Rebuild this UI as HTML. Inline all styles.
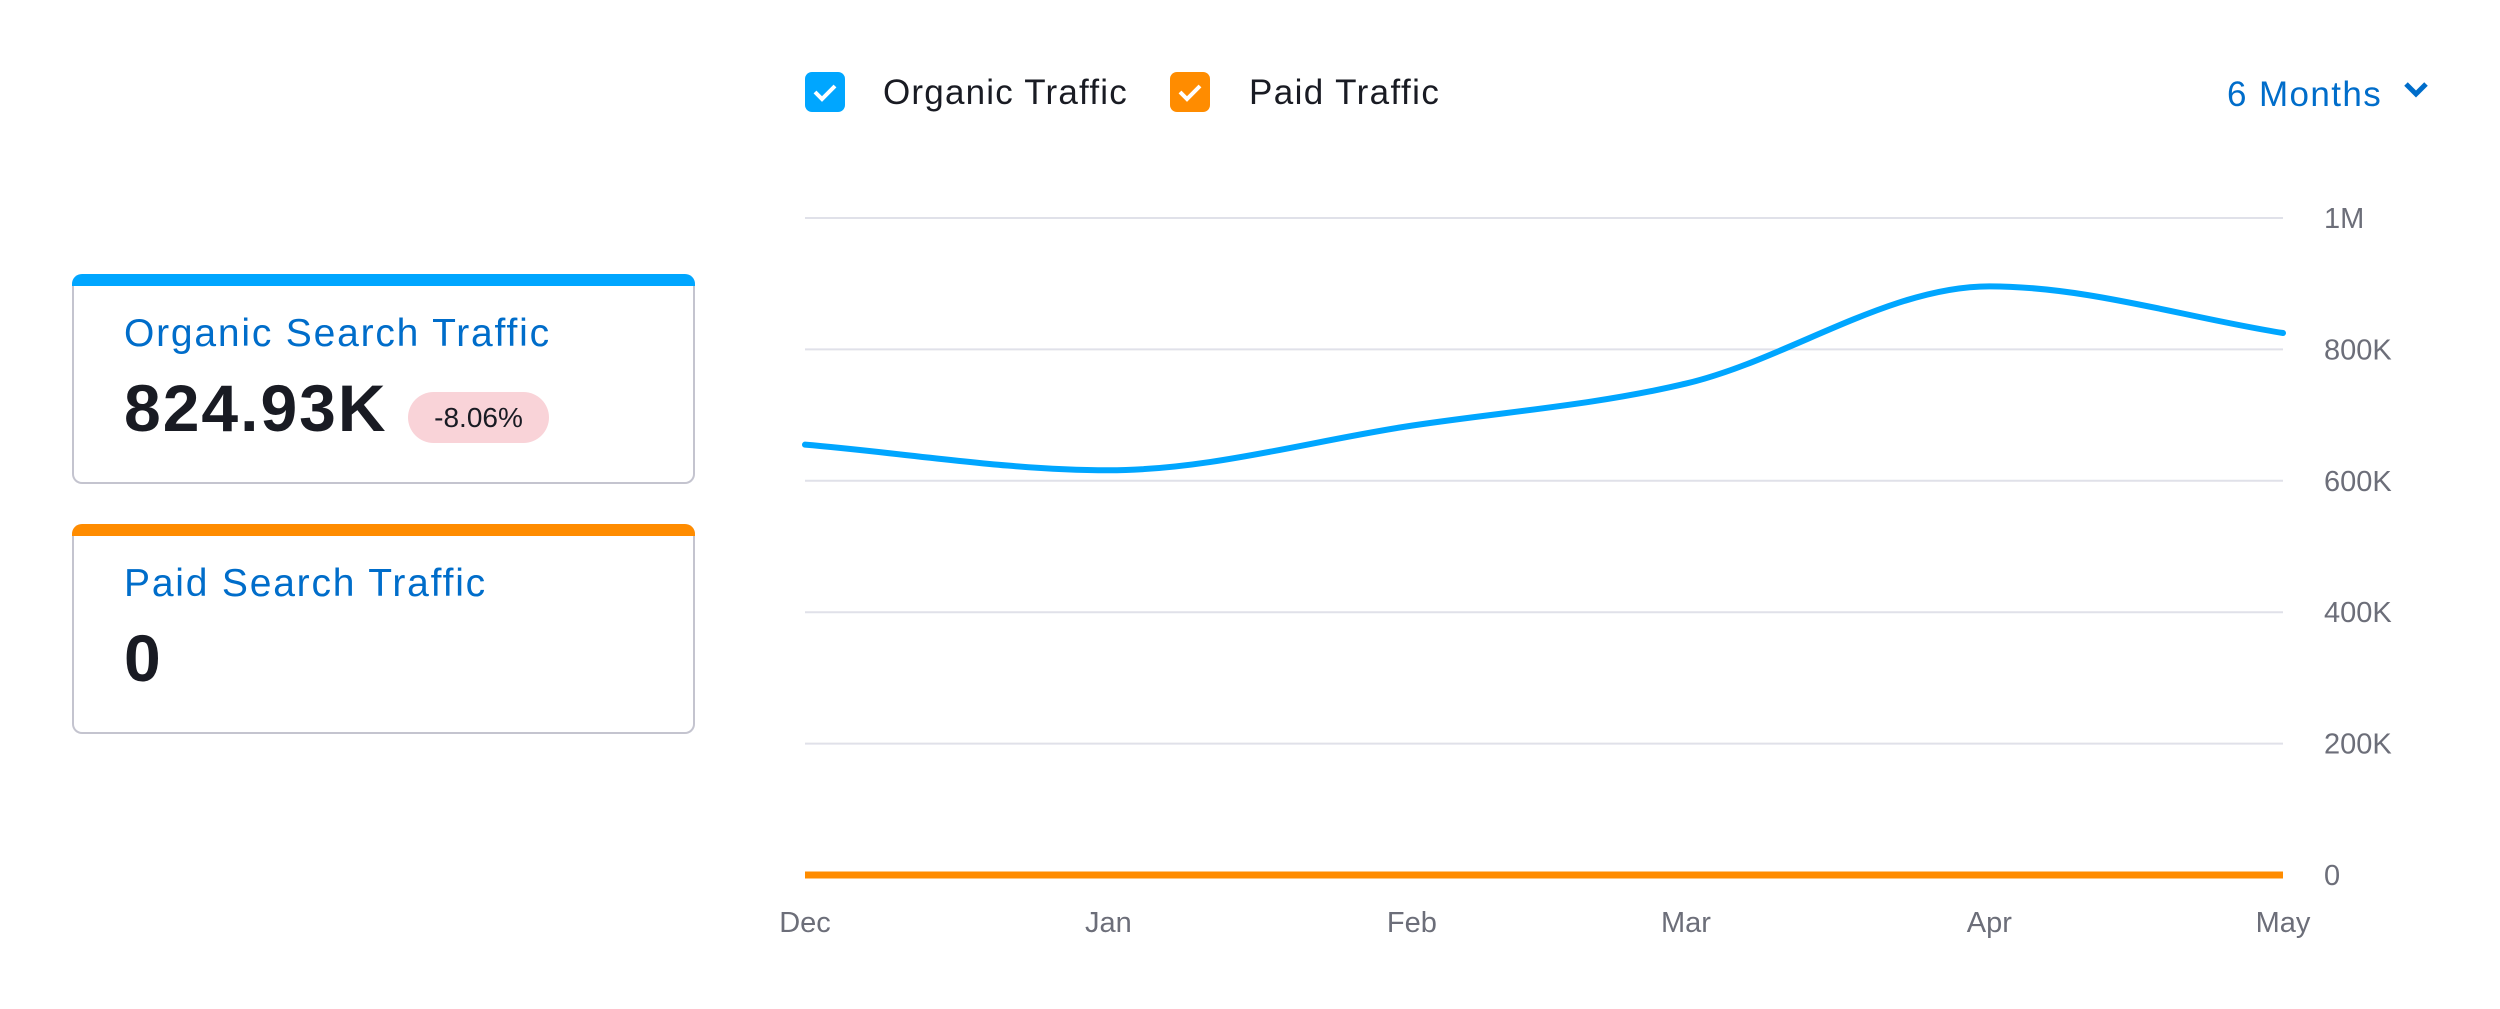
<!DOCTYPE html>
<html><head><meta charset="utf-8"><style>
body{margin:0;width:2500px;height:1009px;background:#fff;font-family:"Liberation Sans",sans-serif;overflow:hidden;position:relative}
.card{position:absolute;left:72px;width:623px;border:2px solid #c4c4cf;border-top:none;border-radius:10px;box-sizing:border-box;background:#fff}
.card .bar{position:absolute;left:-2px;right:-2px;top:0;height:12px;border-radius:10px 10px 0 0}
.t{position:absolute;left:50px;font-size:39px;letter-spacing:1.8px;color:#006dca}
.v{position:absolute;left:50px;font-size:66px;letter-spacing:2px;font-weight:bold;color:#191b23}
</style></head><body>
<div class="card" style="top:274px;height:210px">
 <div class="bar" style="background:#00a6ff"></div>
 <div class="t" style="top:38px">Organic Search Traffic</div>
 <div class="v" style="top:96px">824.93K</div>
 <div style="position:absolute;left:334px;top:118px;width:141px;height:51px;border-radius:26px;background:#f9d3d8;font-size:28px;color:#191b23;text-align:center;line-height:51px">-8.06%</div>
</div>
<div class="card" style="top:524px;height:210px">
 <div class="bar" style="background:#ff8c00"></div>
 <div class="t" style="top:38px">Paid Search Traffic</div>
 <div class="v" style="top:96px">0</div>
</div>
<svg id="chart" width="2500" height="1009" style="position:absolute;left:0;top:0">
 <g>
  <rect x="805" y="72" width="40" height="40" rx="7" fill="#00a6ff"/>
  <path d="M815 92 l7 7 l13 -13" stroke="#fff" stroke-width="4" fill="none"/>
  <text x="883" y="104" font-size="35" letter-spacing="1.2" fill="#191b23">Organic Traffic</text>
 </g>
 <g>
  <rect x="1170" y="72" width="40" height="40" rx="7" fill="#ff8c00"/>
  <path d="M1180 92 l7 7 l13 -13" stroke="#fff" stroke-width="4" fill="none"/>
  <text x="1249" y="104" font-size="35" letter-spacing="1.4" fill="#191b23">Paid Traffic</text>
 </g>
 <g>
  <text x="2227" y="106" font-size="35" letter-spacing="1.4" fill="#006dca">6 Months</text>
  <path d="M2406 84 l10 10 l10 -10" stroke="#006dca" stroke-width="5" fill="none"/>
 </g>
 <g id="grid"></g><g id="lines"></g><g id="labels"></g>
</svg>
<script>
const months=["Dec","Jan","Feb","Mar","Apr","May"];
const monthDays=[0,31,62,90,121,151];
const organic=[655000,616000,684000,748000,896000,824930];
const paid=[0,0,0,0,0,0];
const yTicks=[0,200000,400000,600000,800000,1000000];
const yTickLabels=["0","200K","400K","600K","800K","1M"];
const NS="http://www.w3.org/2000/svg";
const X0=805,X1=2283,Y0=875,Y1=218;
const x=d=>X0+(X1-X0)*d/151;
const y=v=>Y0+(Y1-Y0)*v/1000000;
function mk(t,a,p){const e=document.createElementNS(NS,t);for(const k in a)e.setAttribute(k,a[k]);p.appendChild(e);return e;}
const grid=document.getElementById('grid'),labels=document.getElementById('labels'),lines=document.getElementById('lines');
yTicks.forEach((v,i)=>{
 const l=mk('line',{x1:X0,x2:X1,y1:y(v),y2:y(v),stroke:'#e0e1e9','stroke-width':2},grid);
 
 
 const t=mk('text',{x:2324,y:y(v)+10,'font-size':29,fill:'#6c6e79'},labels);
 t.textContent=yTickLabels[i];
 
 
});
months.forEach((m,i)=>{
 const t=mk('text',{x:x(monthDays[i]),y:932,'font-size':29,fill:'#6c6e79','text-anchor':'middle'},labels);
 t.textContent=m;
 
 
});
function monotone(xs,ys){
 const n=xs.length,d=[],m=[];
 for(let i=0;i<n-1;i++)d.push((ys[i+1]-ys[i])/(xs[i+1]-xs[i]));
 for(let i=0;i<n;i++){
  if(i===0)m.push(d[0]);else if(i===n-1)m.push(d[n-2]);
  else m.push(d[i-1]*d[i]<=0?0:(d[i-1]+d[i])/2);
 }
 for(let i=0;i<n-1;i++){if(d[i]===0){m[i]=0;m[i+1]=0;continue;}
  const a=m[i]/d[i],b=m[i+1]/d[i],s=a*a+b*b;if(s>9){const t=3/Math.sqrt(s);m[i]=t*a*d[i];m[i+1]=t*b*d[i];}}
 let p=`M${xs[0]},${ys[0]}`;
 for(let i=0;i<n-1;i++){const h=(xs[i+1]-xs[i])/3;
  p+=` C${xs[i]+h},${ys[i]+m[i]*h} ${xs[i+1]-h},${ys[i+1]-m[i+1]*h} ${xs[i+1]},${ys[i+1]}`;}
 return p;
}
const xs=monthDays.map(x);
const pp=mk('path',{d:monotone(xs,paid.map(y)),stroke:'#ff8c00','stroke-width':7,fill:'none'},lines);


const op=mk('path',{d:monotone(xs,organic.map(y)),stroke:'#00a6ff','stroke-width':6,fill:'none','stroke-linecap':'round'},lines);


</script>
</body></html>
